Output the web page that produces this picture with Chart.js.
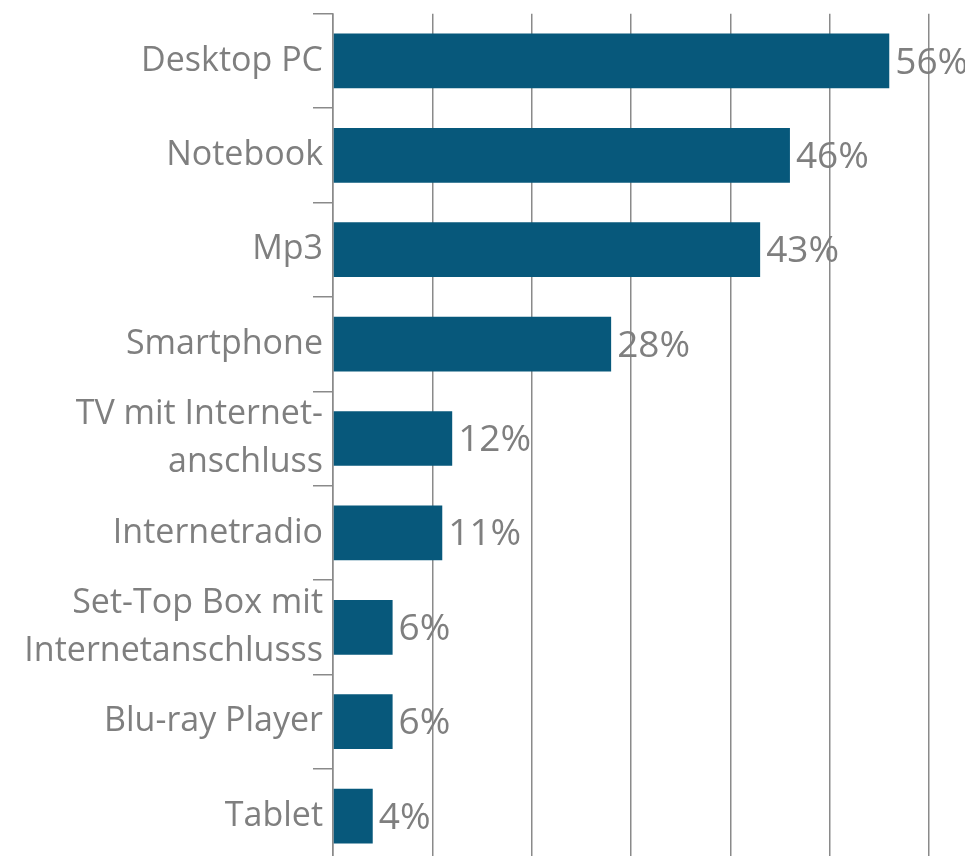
<!DOCTYPE html>
<html>
<head>
<meta charset="utf-8">
<script src="https://cdn.jsdelivr.net/npm/chart.js@4/dist/chart.umd.min.js"></script>
<style>
  html, body { margin: 0; padding: 0; background: #fff; overflow: hidden; }
</style>
</head>
<body>
<canvas id="myChart" width="965" height="877"></canvas>
<script>
var categories = [
    'Desktop PC',
    'Notebook',
    'Mp3',
    'Smartphone',
    ['TV mit Internet-', 'anschluss'],
    'Internetradio',
    ['Set-Top Box mit', 'Internetanschlusss'],
    'Blu-ray Player',
    'Tablet'
];
var shares = [56, 46, 43, 28, 12, 11, 6, 6, 4];

var textGrey = '#7f7f7f';
var fontFamily = '"Open Sans", Lato, sans-serif';

// percent labels right of each bar
var valueLabels = {
    id: 'valueLabels',
    afterDatasetsDraw: function(chart) {
        var ctx = chart.ctx;
        var meta = chart.getDatasetMeta(0);
        ctx.save();
        ctx.fillStyle = textGrey;
        ctx.font = '37px ' + fontFamily;
        ctx.textAlign = 'left';
        ctx.textBaseline = 'middle';
        meta.data.forEach(function(bar, i) {
            ctx.fillText(shares[i] + '%', bar.x + 6, bar.y + 2);
        });
        ctx.restore();
    }
};

var ctx = document.getElementById('myChart').getContext('2d');
var chart = new Chart(ctx, {
    type: 'bar',
    data: {
        labels: categories,
        datasets: [{
            data: shares,
            backgroundColor: '#07587b',
            categoryPercentage: 1,
            barPercentage: 0.58
        }]
    },
    options: {
        indexAxis: 'y',
        responsive: false,
        animation: false,
        layout: { padding: { top: 8, right: 36, bottom: 0, left: 0 } },
        plugins: {
            legend: { display: false },
            tooltip: { enabled: false }
        },
        scales: {
            x: {
                min: 0,
                max: 60,
                ticks: { display: false, stepSize: 10 },
                border: { display: false },
                grid: { color: '#8a8a8a', lineWidth: 1.5, drawTicks: false },
                afterFit: function(axis) { axis.height = 0; }
            },
            y: {
                border: { display: true, color: '#8a8a8a', width: 1.5 },
                grid: {
                    offset: true,
                    drawOnChartArea: false,
                    color: '#8a8a8a',
                    lineWidth: 1.5,
                    tickLength: 20
                },
                ticks: {
                    color: textGrey,
                    padding: -10,
                    autoSkip: false,
                    font: { family: fontFamily, size: 34, lineHeight: 1.4 }
                },
                afterFit: function(axis) { axis.width = 333; }
            }
        }
    },
    plugins: [valueLabels]
});
</script>
</body>
</html>
